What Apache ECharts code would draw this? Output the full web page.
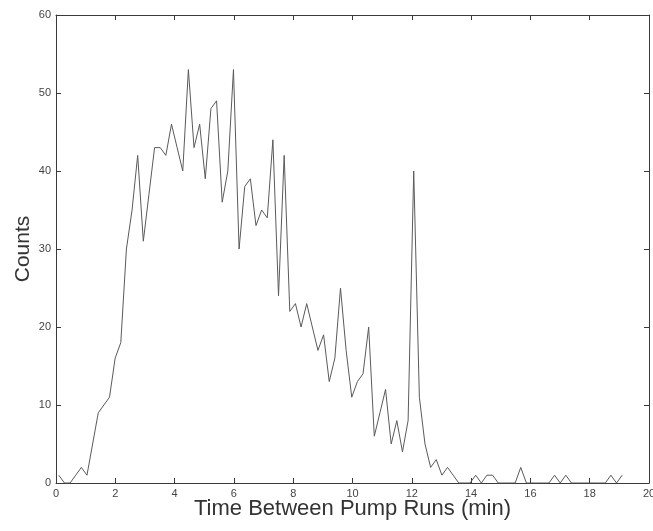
<!DOCTYPE html>
<html>
<head>
<meta charset="utf-8">
<script src="https://cdn.jsdelivr.net/npm/echarts@6/dist/echarts.min.js"></script>
<style>
  html, body { margin: 0; padding: 0; background: #fff; }
  #main { width: 653px; height: 531px; }
</style>
</head>
<body>
<div id="main"></div>
<script>
// bin centres (min)
const binTimes = [
  0.095, 0.285, 0.475, 0.665, 0.855, 1.045, 1.235, 1.425, 1.615, 1.805,
  1.995, 2.185, 2.375, 2.565, 2.755, 2.945, 3.135, 3.325, 3.515, 3.705,
  3.895, 4.085, 4.275, 4.465, 4.655, 4.845, 5.035, 5.225, 5.415, 5.605,
  5.795, 5.985, 6.175, 6.365, 6.555, 6.745, 6.935, 7.125, 7.315, 7.505,
  7.695, 7.885, 8.075, 8.265, 8.455, 8.645, 8.835, 9.025, 9.215, 9.405,
  9.595, 9.785, 9.975, 10.165, 10.355, 10.545, 10.735, 10.925, 11.115, 11.305,
  11.495, 11.685, 11.875, 12.065, 12.255, 12.445, 12.635, 12.825, 13.015, 13.205,
  13.395, 13.585, 13.775, 13.965, 14.155, 14.345, 14.535, 14.725, 14.915, 15.105,
  15.295, 15.485, 15.675, 15.865, 16.055, 16.245, 16.435, 16.625, 16.815, 17.005,
  17.195, 17.385, 17.575, 17.765, 17.955, 18.145, 18.335, 18.525, 18.715, 18.905,
  19.095
];

// counts per bin
const counts = [
  1, 0, 0, 1, 2, 1, 5, 9, 10, 11,
  16, 18, 30, 35, 42, 31, 37, 43, 43, 42,
  46, 43, 40, 53, 43, 46, 39, 48, 49, 36,
  40, 53, 30, 38, 39, 33, 35, 34, 44, 24,
  42, 22, 23, 20, 23, 20, 17, 19, 13, 16,
  25, 17, 11, 13, 14, 20, 6, 9, 12, 5,
  8, 4, 8, 40, 11, 5, 2, 3, 1, 2,
  1, 0, 0, 0, 1, 0, 1, 1, 0, 0,
  0, 0, 2, 0, 0, 0, 0, 0, 1, 0,
  1, 0, 0, 0, 0, 0, 0, 0, 1, 0,
  1
];

const xTicks = { min: 0, max: 20, interval: 2 };
const yTicks = { min: 0, max: 60, interval: 10 };

const frameColor = '#3a3a3a';
const textColor = '#444';

let points = binTimes.map((t, i) => [t, counts[i]]);

// shared look for the box axes (MATLAB style, ticks inside on every side)
function boxAxis (extra) {
  return Object.assign({
    type: 'value',
    axisLine: { show: true, onZero: false, lineStyle: { color: frameColor, width: 1 } },
    axisTick: { show: true, inside: true, length: 5, lineStyle: { color: frameColor } },
    splitLine: { show: false },
    axisLabel: { show: false }
  }, extra);
}

let option = {
  backgroundColor: '#fff',
  animation: false,
  grid: {
    left: 56,
    right: 4,
    top: 15,
    bottom: 48,
    outerBoundsMode: 'none'
  },
  xAxis: [
    boxAxis(Object.assign({}, xTicks, {
      position: 'bottom',
      name: 'Time Between Pump Runs (min)',
      nameLocation: 'middle',
      nameGap: 15,
      nameMoveOverlap: false,
      nameTextStyle: { fontFamily: 'Liberation Sans', fontSize: 22, color: '#333', verticalAlign: 'top' },
      axisLabel: { show: true, margin: 5, fontFamily: 'Liberation Sans', fontSize: 11, color: textColor }
    })),
    boxAxis(Object.assign({}, xTicks, { position: 'top' }))
  ],
  yAxis: [
    boxAxis(Object.assign({}, yTicks, {
      position: 'left',
      name: 'Counts',
      nameLocation: 'middle',
      nameGap: 22,
      nameMoveOverlap: false,
      nameTextStyle: { fontFamily: 'Liberation Sans', fontSize: 21, color: '#333' },
      axisLabel: { show: true, margin: 5, fontFamily: 'Liberation Sans', fontSize: 11, color: textColor }
    })),
    boxAxis(Object.assign({}, yTicks, { position: 'right' }))
  ],
  series: [
    {
      name: 'Counts',
      type: 'line',
      xAxisIndex: 0,
      yAxisIndex: 0,
      data: points,
      showSymbol: false,
      lineStyle: { color: '#5a5a5a', width: 1 },
      z: 1
    }
  ]
};

let myChart = echarts.init(document.getElementById('main'), null, { renderer: 'canvas' });
myChart.setOption(option);
</script>
</body>
</html>
